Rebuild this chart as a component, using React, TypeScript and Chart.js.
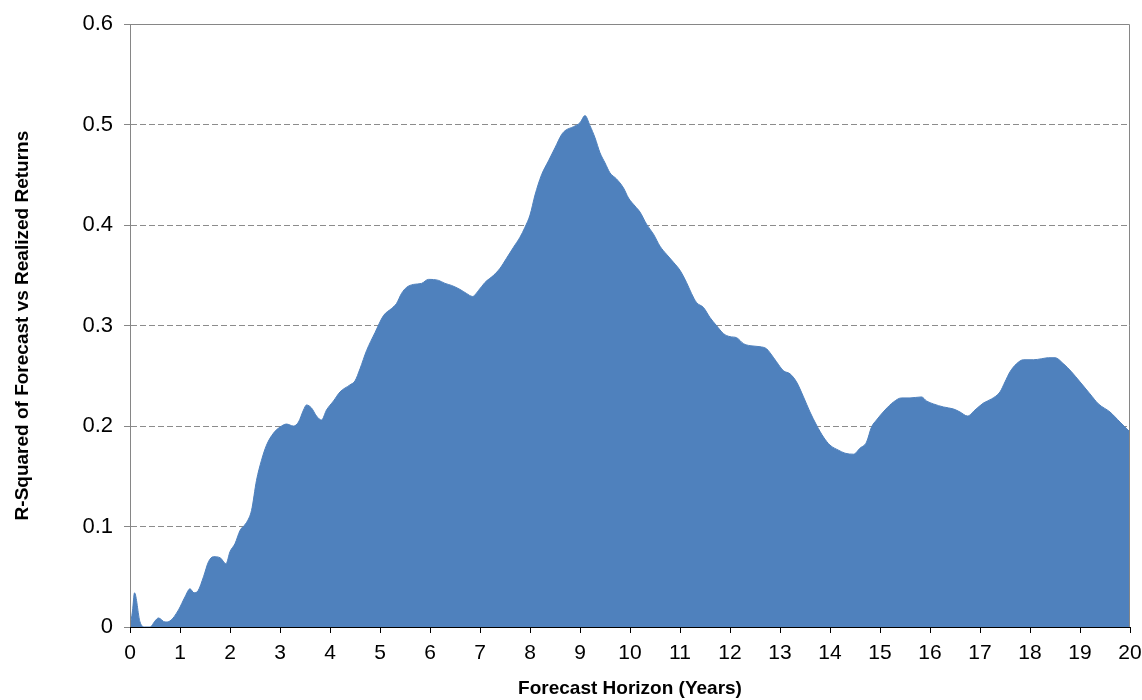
import React, { useEffect, useRef } from "react";
import { Chart, registerables } from "chart.js";

Chart.register(...registerables);

// Forecast horizon in years (x positions of the readings)
const horizonYears: number[] = [
  0, 0.05, 0.09, 0.2, 0.3, 0.4, 0.5, 0.57, 0.7, 0.8, 0.97,
  1.1, 1.2, 1.28, 1.36, 1.47, 1.57, 1.67, 1.8, 1.92,
  2.0, 2.1, 2.2, 2.33, 2.43, 2.53, 2.63, 2.73, 2.87,
  3.0, 3.13, 3.27, 3.37, 3.47, 3.53, 3.63, 3.73, 3.83, 3.93,
  4.07, 4.2, 4.4, 4.5, 4.6, 4.73, 4.9,
  5.07, 5.23, 5.33, 5.43, 5.53, 5.67, 5.83, 5.97,
  6.17, 6.3, 6.43, 6.6, 6.73, 6.85, 6.97,
  7.1, 7.27, 7.4, 7.53, 7.67, 7.8, 7.9,
  8.0, 8.1, 8.23, 8.37, 8.5, 8.63, 8.7, 8.87,
  9.0, 9.1, 9.2, 9.3, 9.4, 9.5, 9.6, 9.73, 9.87, 9.97,
  10.1, 10.2, 10.33, 10.47, 10.6, 10.73, 10.87,
  11.0, 11.13, 11.23, 11.33, 11.47, 11.6, 11.73, 11.87,
  12.0, 12.13, 12.27, 12.4, 12.6, 12.73, 12.8, 12.93,
  13.07, 13.2, 13.33, 13.47, 13.6, 13.73, 13.87,
  14.0, 14.17, 14.3, 14.47, 14.6, 14.73, 14.83, 14.93,
  15.1, 15.27, 15.43, 15.6, 15.83, 15.93,
  16.07, 16.27, 16.47, 16.6, 16.75, 16.9,
  17.07, 17.23, 17.4, 17.5, 17.6, 17.73, 17.87,
  18.07, 18.23, 18.37, 18.5, 18.67, 18.83,
  19.0, 19.2, 19.37, 19.6, 19.8, 20.0,
];

// R-squared of forecast vs realized returns
const rSquared: number[] = [
  0, 0.016, 0.034, 0.005, 0.0, 0.0, 0.006, 0.009, 0.005, 0.006, 0.017,
  0.03, 0.038, 0.034, 0.036, 0.05, 0.065, 0.07, 0.069, 0.063,
  0.075, 0.083, 0.096, 0.104, 0.116, 0.146, 0.166, 0.181, 0.193,
  0.199, 0.202, 0.2, 0.204, 0.216, 0.221, 0.218, 0.21, 0.206, 0.216,
  0.225, 0.234, 0.241, 0.245, 0.257, 0.275, 0.293,
  0.31, 0.317, 0.322, 0.332, 0.338, 0.341, 0.342, 0.346,
  0.345, 0.342, 0.34, 0.336, 0.332, 0.329, 0.335,
  0.343, 0.35, 0.357, 0.367, 0.378, 0.388, 0.398,
  0.41, 0.43, 0.45, 0.464, 0.477, 0.49, 0.494, 0.498,
  0.502, 0.509, 0.499, 0.487, 0.472, 0.462, 0.452, 0.446, 0.437, 0.427,
  0.419, 0.413, 0.401, 0.391, 0.379, 0.371, 0.363,
  0.355, 0.343, 0.332, 0.323, 0.318, 0.308, 0.3, 0.292,
  0.289, 0.288, 0.282, 0.28, 0.279, 0.277, 0.273, 0.264,
  0.255, 0.252, 0.244, 0.229, 0.214, 0.201, 0.189,
  0.181, 0.176, 0.173, 0.172, 0.178, 0.184, 0.199, 0.206,
  0.216, 0.224, 0.228, 0.228, 0.229, 0.225,
  0.222, 0.219, 0.217, 0.214, 0.21, 0.216,
  0.223, 0.227, 0.234, 0.244, 0.254, 0.262, 0.266,
  0.266, 0.267, 0.268, 0.268, 0.262, 0.254,
  0.244, 0.232, 0.222, 0.214, 0.204, 0.194,
];

const xTickValues: number[] = Array.from({ length: 21 }, (_, i) => i);
const yTickValues: number[] = [0, 0.1, 0.2, 0.3, 0.4, 0.5, 0.6];

const xTitle = "Forecast Horizon (Years)";
const yTitle = "R-Squared of Forecast vs Realized Returns";

const FONT = "'Liberation Sans', Arial, sans-serif";

const framePlugin = {
  id: "frame",
  afterDatasetsDraw(chart: any) {
    const { ctx, chartArea } = chart;
    const { left, right, top, bottom } = chartArea;
    ctx.save();
    ctx.lineWidth = 1;
    ctx.strokeStyle = "#868686";
    ctx.beginPath();
    ctx.moveTo(Math.round(left) + 0.5, Math.round(bottom));
    ctx.lineTo(Math.round(left) + 0.5, Math.round(top) + 0.5);
    ctx.lineTo(Math.round(right) - 0.5, Math.round(top) + 0.5);
    ctx.lineTo(Math.round(right) - 0.5, Math.round(bottom));
    ctx.stroke();
    ctx.strokeStyle = "#000000";
    ctx.beginPath();
    ctx.moveTo(Math.round(left), Math.round(bottom) + 0.5);
    ctx.lineTo(Math.round(right), Math.round(bottom) + 0.5);
    ctx.stroke();
    ctx.restore();
  },
};

export default function App() {
  const canvasRef = useRef<HTMLCanvasElement | null>(null);

  useEffect(() => {
    document.body.style.margin = "0";
    const canvas = canvasRef.current;
    if (!canvas) return;
    const points = horizonYears.map((x, i) => ({ x, y: rSquared[i] }));
    const chart = new Chart(canvas, {
      type: "line",
      data: {
        datasets: [
          {
            data: points,
            fill: "origin",
            backgroundColor: "#4F81BD",
            borderColor: "#4F81BD",
            borderWidth: 1,
            pointRadius: 0,
            cubicInterpolationMode: "monotone",
          },
        ],
      },
      options: {
        responsive: false,
        animation: false,
        events: [],
        layout: { padding: { top: 23, right: 12, left: 0, bottom: 0 } },
        plugins: {
          legend: { display: false },
          tooltip: { enabled: false },
        },
        scales: {
          x: {
            type: "linear",
            min: 0,
            max: 20,
            afterBuildTicks: (scale: any) => {
              scale.ticks = xTickValues.map((v) => ({ value: v }));
            },
            afterFit: (scale: any) => {
              scale.height = 73;
              scale.paddingLeft = 0;
              scale.paddingRight = 0;
            },
            grid: {
              drawOnChartArea: false,
              drawTicks: true,
              tickLength: 6,
              tickColor: "#000000",
            },
            border: { display: true, color: "#000000", width: 1 },
            ticks: {
              padding: 8,
              color: "#000000",
              font: { family: FONT, size: 21 },
              maxRotation: 0,
              autoSkip: false,
              callback: (v: any) => String(v),
            },
            title: {
              display: true,
              text: xTitle,
              color: "#000000",
              font: { family: FONT, size: 19, weight: "bold" },
              padding: { top: 0, bottom: 0 },
            },
          },
          y: {
            type: "linear",
            min: 0,
            max: 0.6,
            afterBuildTicks: (scale: any) => {
              scale.ticks = yTickValues.map((v) => ({ value: v }));
            },
            afterFit: (scale: any) => {
              scale.width = 130;
            },
            grid: {
              drawOnChartArea: true,
              drawTicks: true,
              tickLength: 6,
              color: (c: any) =>
                c.tick && (c.tick.value === 0 || Math.abs(c.tick.value - 0.6) < 1e-6)
                  ? "rgba(0,0,0,0)"
                  : "#8c8c8c",
              tickColor: "#868686",
              tickBorderDash: [],
              lineWidth: 1,
            },
            border: { display: true, color: "#868686", width: 1, dash: [6, 3] },
            ticks: {
              padding: 11,
              color: "#000000",
              font: { family: FONT, size: 22 },
              autoSkip: false,
              callback: (v: any) => {
                const n = Number(v);
                return n === 0 ? "0" : n.toFixed(1);
              },
            },
            title: {
              display: true,
              text: yTitle,
              color: "#000000",
              font: { family: FONT, size: 19, weight: "bold" },
              padding: { top: 11, bottom: 0 },
            },
          },
        },
      },
      plugins: [framePlugin],
    } as any);
    return () => chart.destroy();
  }, []);

  return (
    <div style={{ position: "absolute", left: 0, top: 0, width: 1142, height: 700 }}>
      <canvas ref={canvasRef} width={1142} height={700} style={{ width: 1142, height: 700 }} />
    </div>
  );
}
